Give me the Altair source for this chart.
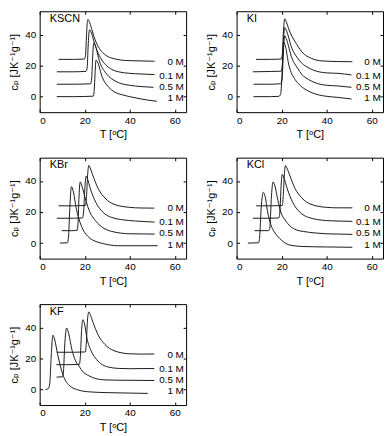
import altair as alt
import pandas as pd

FONT = "Liberation Sans, DejaVu Sans, sans-serif"

series_names = ["0 M", "0.1 M", "0.5 M", "1 M"]
panel_names = ["KSCN", "KI", "KBr", "KCl", "KF"]
x_ticks = [0, 20, 40, 60]
y_ticks = [0, 20, 40]
x_domain = [0, 65]
y_domain = [-10, 55]
x_title = "T [\u1d52C]"
y_title = "c\u209a [JK\u207b\u00b9g\u207b\u00b9]"

# ---------------- KSCN ----------------
KSCN_0M_T = [8.4, 15, 19.8, 20.3, 20.7, 21.0, 21.4, 22.0, 23.0, 24.5, 26.5, 29.3, 33.7, 38, 45, 51]
KSCN_0M_cp = [24, 24, 24.2, 26, 36, 45, 49.7, 48.5, 44, 37, 31, 26.7, 24.2, 23.3, 23, 22.8]
KSCN_01M_T = [7.6, 15, 20.6, 21.1, 21.5, 22.1, 23, 24, 25, 27, 29.3, 32, 35, 40, 45, 51]
KSCN_01M_cp = [16, 16, 16.3, 19, 32, 43, 41, 36, 31.5, 25, 20.5, 17.5, 16, 15, 14.6, 14.2]
KSCN_05M_T = [7.6, 15, 22.6, 23.1, 23.5, 24.0, 24.7, 26.5, 29.3, 32, 35, 40, 45, 50.5]
KSCN_05M_cp = [8, 8, 8.3, 12, 25, 34.5, 33, 23, 15.3, 11.5, 9, 7.3, 6.5, 6]
KSCN_1M_T = [7.6, 15, 23.8, 24.2, 24.6, 25.0, 25.6, 27.9, 30.8, 33, 36.6, 40, 45, 52]
KSCN_1M_cp = [0, 0, 0.3, 4, 15, 23.6, 22.5, 12.1, 5.8, 3.2, 1.2, 0, -1.5, -3]

# ---------------- KI ----------------
KI_0M_T = [8.7, 15, 19.8, 20.3, 20.8, 21.4, 22, 23.2, 24.5, 26.1, 29, 33.3, 38, 45, 51.4]
KI_0M_cp = [24, 24, 24.2, 27, 42, 50.1, 48.5, 43.4, 39, 35.1, 28.8, 24.6, 23, 22.6, 22.5]
KI_01M_T = [7.2, 15, 19.8, 20.3, 20.8, 21.4, 22, 24.6, 27, 29, 32, 34.8, 40, 45, 51]
KI_01M_cp = [16, 16.2, 16.4, 20, 36, 44.5, 43, 31, 25, 21.5, 18.5, 16.7, 15.3, 15, 14]
KI_05M_T = [7.5, 15, 19.5, 20.2, 20.8, 21.4, 22, 24.6, 27, 29, 32, 34.8, 40, 45, 51]
KI_05M_cp = [8, 8, 8.3, 11, 30, 39.2, 37.5, 24.6, 18.5, 14.2, 11, 9, 7.3, 6.9, 6]
KI_1M_T = [7.5, 15, 18.8, 19.6, 20.2, 20.6, 21.0, 21.6, 23.2, 26, 28, 30.4, 33, 36.2, 40, 45, 51]
KI_1M_cp = [0, 0, 0.2, 2, 15, 28, 35.1, 33, 20.4, 11, 7.5, 4.8, 2.8, 1.2, 0.2, -0.5, -1.5]

# ---------------- KBr ----------------
KBr_0M_T = [8.4, 15, 20.3, 20.8, 21.3, 21.8, 22.4, 23.5, 26, 29, 33, 40, 45, 50.9]
KBr_0M_cp = [24, 24, 24.2, 30, 44, 50, 48.5, 44, 35, 29, 25, 23, 22.6, 22.5]
KBr_01M_T = [7.6, 15, 19.0, 19.5, 20.0, 20.6, 21.2, 22.5, 25, 28, 32, 40, 45, 51]
KBr_01M_cp = [16, 16, 16.2, 20, 34, 43.1, 41.5, 35, 26, 20, 16.5, 14.5, 14, 13.5]
KBr_05M_T = [9.8, 15, 16.6, 17.0, 17.4, 18.0, 18.6, 20, 22, 25, 28, 32, 40, 46, 51]
KBr_05M_cp = [8, 8, 8.2, 12, 28, 39.4, 37.5, 30, 21, 14, 10, 7.5, 6, 5.9, 5.8]
KBr_1M_T = [9, 12.3, 12.8, 13.3, 14.1, 14.8, 16.3, 18, 19.2, 22, 25, 27.8, 35, 45, 52.4]
KBr_1M_cp = [0, 0.2, 4, 20, 36.3, 34, 22, 13, 8.8, 3.5, 1, -0.2, -1.7, -1.7, -1.7]

# ---------------- KCl ----------------
KCl_0M_T = [8.7, 15, 20.3, 20.7, 21.2, 21.7, 22.3, 23.5, 26, 29, 33, 40, 45, 51.4]
KCl_0M_cp = [24, 24, 24.2, 30, 44, 50, 48.5, 44, 35, 29, 25, 23, 22.7, 22.7]
KCl_01M_T = [7.2, 15, 18.8, 19.3, 19.8, 20.3, 20.9, 22.5, 25, 28, 32, 40, 45, 51.4]
KCl_01M_cp = [16, 16, 16.2, 22, 38, 44.2, 42.5, 35, 26, 20, 16.5, 14.5, 14.2, 14]
KCl_05M_T = [8, 14.0, 14.5, 14.9, 15.4, 16.2, 16.9, 18, 19.6, 21.5, 23.9, 26.5, 29.6, 35, 39.7, 45, 51.4]
KCl_05M_cp = [8, 8, 8.3, 12, 28, 39.4, 37.5, 30, 20, 15, 10.8, 8.5, 7.5, 6.5, 6, 5.8, 5.6]
KCl_1M_T = [5, 9.8, 10.3, 10.9, 11.9, 12.6, 13.8, 15.2, 16.6, 18.1, 20, 22.3, 26, 29.5, 40, 51.4]
KCl_1M_cp = [0, 0.2, 5, 22, 32.7, 30.5, 20, 11.9, 7.5, 4.6, 1.8, -0.6, -1.8, -2.2, -2.5, -2.7]

# ---------------- KF ----------------
KF_0M_T = [7.6, 15, 20.3, 20.7, 21.2, 21.8, 22.4, 23.5, 26, 29, 33, 40, 45, 50.9]
KF_0M_cp = [24, 24, 24.2, 30, 44, 50, 48.5, 44, 35, 29, 25, 23, 22.8, 22.9]
KF_01M_T = [7.4, 12, 17.6, 18.1, 18.6, 19.2, 19.8, 21, 22.8, 24.7, 27, 30.4, 35, 40, 45, 50.9]
KF_01M_cp = [16, 16, 16.2, 22, 38, 45, 43, 32.9, 25, 20.4, 16.8, 14.5, 13.6, 13.4, 13.5, 13.5]
KF_05M_T = [7.5, 10.2, 10.6, 11.1, 12.0, 12.7, 14.5, 15.8, 17.4, 19.5, 21.8, 25, 29, 35, 45, 50.9]
KF_05M_cp = [8, 8.2, 12, 28, 39.6, 37, 24.6, 19, 15.2, 11, 8.9, 7, 6.2, 6, 5.9, 5.8]
KF_1M_T = [2.6, 3.8, 4.5, 5.0, 5.9, 6.6, 8, 10.2, 13.1, 17.4, 22, 30, 40, 48]
KF_1M_cp = [0, 0.5, 4, 18, 35, 32.5, 22.5, 10, 2.7, -0.4, -1.5, -2, -2.3, -2.5]

curves = {
    "KSCN": [(KSCN_0M_T, KSCN_0M_cp), (KSCN_01M_T, KSCN_01M_cp), (KSCN_05M_T, KSCN_05M_cp), (KSCN_1M_T, KSCN_1M_cp)],
    "KI": [(KI_0M_T, KI_0M_cp), (KI_01M_T, KI_01M_cp), (KI_05M_T, KI_05M_cp), (KI_1M_T, KI_1M_cp)],
    "KBr": [(KBr_0M_T, KBr_0M_cp), (KBr_01M_T, KBr_01M_cp), (KBr_05M_T, KBr_05M_cp), (KBr_1M_T, KBr_1M_cp)],
    "KCl": [(KCl_0M_T, KCl_0M_cp), (KCl_01M_T, KCl_01M_cp), (KCl_05M_T, KCl_05M_cp), (KCl_1M_T, KCl_1M_cp)],
    "KF": [(KF_0M_T, KF_0M_cp), (KF_01M_T, KF_01M_cp), (KF_05M_T, KF_05M_cp), (KF_1M_T, KF_1M_cp)],
}

# annotation anchors (data units)
LABEL_X = 64
LABEL_Y = [22.5, 13.5, 6.3, -1.2]
NAME_X, NAME_Y = 4.5, 50

W, H = 148, 102


def panel(name):
    rows = []
    for s, (T, cp) in zip(series_names, curves[name]):
        for t, c in zip(T, cp):
            rows.append({"T": t, "cp": c, "series": s})
    df = pd.DataFrame(rows)
    xs = alt.Scale(domain=x_domain, nice=False, zero=False)
    ys = alt.Scale(domain=y_domain, nice=False, zero=False)

    lines = alt.Chart(df).mark_line(
        interpolate="monotone", stroke="#1a1a1a", strokeWidth=1
    ).encode(
        x=alt.X("T:Q", scale=xs, axis=alt.Axis(values=x_ticks, title=x_title, offset=-3,
                                                tickSize=3, labelPadding=3, titlePadding=4)),
        y=alt.Y("cp:Q", scale=ys, axis=alt.Axis(values=y_ticks, title=y_title, offset=-3,
                                                 tickSize=3, labelPadding=4, titlePadding=5)),
        detail="series:N",
    )

    lab_df = pd.DataFrame({"series": series_names, "y": LABEL_Y, "x": [LABEL_X] * 4})
    labels = alt.Chart(lab_df).mark_text(
        align="right", baseline="middle", fontSize=10, font=FONT, color="black"
    ).encode(
        x=alt.X("x:Q", scale=xs, axis=None),
        y=alt.Y("y:Q", scale=ys, axis=None),
        text="series:N",
    )

    name_df = pd.DataFrame({"name": [name], "x": [NAME_X], "y": [NAME_Y]})
    name_txt = alt.Chart(name_df).mark_text(
        align="left", baseline="middle", fontSize=11, font=FONT, color="black"
    ).encode(
        x=alt.X("x:Q", scale=xs, axis=alt.Axis(orient="top", values=x_ticks, labels=False, title=None,
                                                offset=-3, tickSize=3)),
        y=alt.Y("y:Q", scale=ys, axis=alt.Axis(orient="right", values=y_ticks, labels=False, title=None,
                                                offset=-3, tickSize=3)),
        text="name:N",
    )

    return alt.layer(lines, labels, name_txt).resolve_axis(
        x="independent", y="independent"
    ).properties(width=W, height=H)


chart = alt.concat(
    *[panel(n) for n in panel_names], columns=2, spacing={"row": 16, "column": 18}
).properties(padding=0).configure_axis(
    labelFont=FONT, titleFont=FONT, labelFontSize=10, titleFontSize=11,
    labelColor="black", titleColor="black", titleFontWeight="normal",
    grid=False, domain=False, tickColor="black", tickWidth=1,
).configure_view(stroke="black", strokeWidth=1)

chart.save("out.html", embed_options={"renderer": "svg", "actions": False})
